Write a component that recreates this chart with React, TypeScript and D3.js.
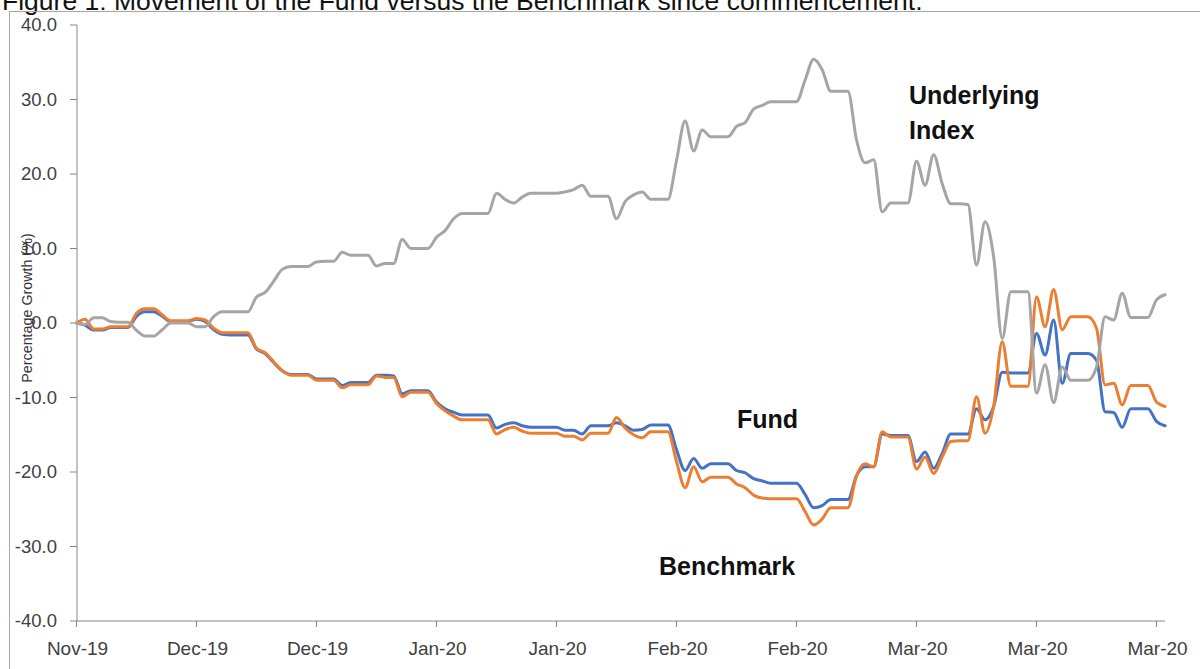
import React from "react";
import * as d3 from "d3";

const startDate = new Date(2019, 10, 25);
const tickLabels = ["Nov-19", "Dec-19", "Dec-19", "Jan-20", "Jan-20", "Feb-20", "Feb-20", "Mar-20", "Mar-20", "Mar-20"];
const yTicks = [40, 30, 20, 10, 0, -10, -20, -30, -40];

const fund = [
  0, -0.3, -0.95, -0.95, -0.6, -0.6, -0.6, 0.9, 1.5, 1.5,
  0.9, 0.2, 0.2, 0.2, 0.5, 0.2, -0.9, -1.5, -1.6, -1.6,
  -1.6, -3.5, -4.1, -5.3, -6.4, -6.9, -6.9, -6.9, -7.5, -7.5,
  -7.5, -8.4, -8.0, -8.0, -8.0, -7.0, -7.0, -7.1, -9.5, -9.1,
  -9.1, -9.1, -10.6, -11.5, -12.0, -12.35, -12.35, -12.35, -12.35, -14.1,
  -13.6, -13.4, -13.8, -14.0, -14.0, -14.0, -14.0, -14.4, -14.4, -14.9,
  -13.8, -13.8, -13.8, -13.4, -13.8, -14.4, -14.3, -13.7, -13.7, -13.7,
  -17.0, -19.8, -18.2, -19.5, -18.9, -18.9, -18.9, -19.8, -20.1, -20.9,
  -21.2, -21.5, -21.5, -21.5, -21.5, -23.0, -24.8, -24.5, -23.7, -23.7,
  -23.7, -20.5, -19.3, -19.3, -14.9, -15.1, -15.1, -15.1, -18.6, -17.3,
  -19.5, -17.5, -14.9, -14.9, -14.9, -11.5, -13.0, -11.2, -6.6, -6.7,
  -6.7, -6.7, -1.4, -4.3, 0.4, -8.1, -4.1, -4.1, -4.1, -5.0,
  -11.9, -12.0, -14.0, -11.5, -11.5, -11.5, -13.2, -13.8,
];

const benchmark = [
  0, 0.5, -0.8, -0.8, -0.5, -0.5, -0.5, 1.3, 1.9, 1.9,
  1.1, 0.3, 0.3, 0.3, 0.6, 0.4, -0.7, -1.3, -1.3, -1.3,
  -1.3, -3.4, -4.0, -5.2, -6.4, -7.0, -7.0, -7.0, -7.7, -7.7,
  -7.7, -8.7, -8.3, -8.3, -8.3, -7.1, -7.3, -7.3, -9.9, -9.3,
  -9.3, -9.3, -10.8, -11.8, -12.5, -13.0, -13.0, -13.0, -13.0, -14.9,
  -14.3, -14.0, -14.5, -14.8, -14.8, -14.8, -14.8, -15.2, -15.2, -15.7,
  -14.8, -14.8, -14.8, -12.7, -14.1, -15.0, -15.4, -14.6, -14.6, -14.6,
  -18.6, -22.1, -19.3, -21.3, -20.7, -20.7, -20.7, -21.6, -22.1, -23.1,
  -23.5, -23.6, -23.6, -23.6, -23.6, -25.3, -27.1, -26.3, -24.8, -24.8,
  -24.8, -20.5, -18.9, -19.3, -14.6, -15.3, -15.3, -15.3, -19.6, -18.0,
  -20.2, -18.0, -15.9, -15.8, -15.8, -9.9, -14.8, -11.2, -2.5, -8.5,
  -8.5, -8.5, 3.5, -0.5, 4.5, -0.9, 0.85, 0.85, 0.85, -0.7,
  -8.3, -8.1, -11.0, -8.4, -8.4, -8.4, -10.6, -11.2,
];

const underlying = [
  0, -0.2, 0.7, 0.7, 0.2, 0.1, 0.1, -1.0, -1.75, -1.75,
  -0.9, 0, 0, 0, -0.5, -0.5, 0.85, 1.5, 1.5, 1.5,
  1.5, 3.5, 4.1, 5.6, 7.2, 7.6, 7.6, 7.6, 8.2, 8.3,
  8.3, 9.5, 9.1, 9.1, 9.1, 7.65, 8.0, 8.0, 11.2, 10.0,
  10.0, 10.0, 11.5, 12.4, 14.0, 14.7, 14.7, 14.7, 14.7, 17.4,
  16.6, 16.1, 16.9, 17.4, 17.4, 17.4, 17.4, 17.6, 17.9, 18.5,
  17.0, 17.0, 17.0, 14.0, 16.3, 17.2, 17.6, 16.6, 16.6, 16.6,
  21.8, 27.1, 23.1, 25.9, 25.0, 25.0, 25.0, 26.4, 26.9, 28.7,
  29.2, 29.7, 29.7, 29.7, 29.7, 32.6, 35.4, 34.0, 31.1, 31.1,
  31.1, 24.6, 21.5, 21.9, 14.9, 16.1, 16.1, 16.1, 21.7, 18.5,
  22.6, 18.7, 16.0, 16.0, 15.9, 7.8, 13.6, 8.9, -2.1, 4.2,
  4.2, 4.2, -9.4, -5.6, -10.7, -5.9, -7.7, -7.7, -7.7, -5.9,
  0.85, 0.4, 4.0, 0.75, 0.75, 0.75, 3.1, 3.8,
];

const seriesNames = ["Fund", "Benchmark", "Underlying Index"];
const seriesColors = ["#4472C4", "#ED7D31", "#A5A5A5"];

export default function App() {
  const W = 1200;
  const H = 669;
  const dates = fund.map((_, i) => d3.timeDay.offset(startDate, i));
  const x = d3
    .scaleTime()
    .domain([dates[0], dates[dates.length - 1]])
    .range([76.5, 76.5 + (dates.length - 1) * (120 / 14)]);
  const y = d3.scaleLinear().domain([-40, 40]).range([621, 25]);
  const tickDates = tickLabels.map((_, i) => d3.timeDay.offset(startDate, i * 14));

  const line = d3
    .line<number>()
    .x((_, i) => x(dates[i]))
    .y((d) => y(d))
    .curve(d3.curveMonotoneX);

  const allSeries = [fund, benchmark, underlying];
  const axisColor = "#868686";
  const font = "'Liberation Sans', Arial, sans-serif";

  return (
    <svg
      width={W}
      height={H}
      style={{ position: "fixed", left: 0, top: 0, background: "#fff" }}
    >
      <rect x={0} y={0} width={W} height={H} fill="#fff" />
      <text x={2} y={9.5} fontFamily={font} fontSize={26.5} fill="#111">
        Figure 1: Movement of the Fund versus the Benchmark since commencement.
      </text>
      <rect x={9.5} y={11.5} width={W + 20} height={H + 20} fill="none" stroke="#a6a6a6" strokeWidth={1} />

      {/* y axis */}
      <line x1={77} x2={77} y1={y(40)} y2={y(-40)} stroke={axisColor} strokeWidth={1} />
      {yTicks.map((t) => (
        <g key={t}>
          <line x1={70} x2={77} y1={y(t)} y2={y(t)} stroke={axisColor} strokeWidth={1} />
          <text
            x={57}
            y={y(t)}
            dy="0.35em"
            textAnchor="end"
            fontFamily={font}
            fontSize={18.5}
            fill="#404040"
          >
            {t.toFixed(1)}
          </text>
        </g>
      ))}

      {/* x axis */}
      <line x1={77} x2={1165} y1={y(-40)} y2={y(-40)} stroke={axisColor} strokeWidth={1} />
      {tickDates.map((d, i) => (
        <g key={i}>
          <line x1={x(d)} x2={x(d)} y1={y(-40)} y2={y(-40) + 6} stroke={axisColor} strokeWidth={1} />
          <text
            x={x(d) + 1}
            y={655}
            textAnchor="middle"
            fontFamily={font}
            fontSize={19}
            fill="#404040"
          >
            {tickLabels[i]}
          </text>
        </g>
      ))}

      <text
        transform={`translate(32, 308) rotate(-90)`}
        textAnchor="middle"
        fontFamily={font}
        fontSize={14.3}
        fill="#333"
      >
        Percentage Growth (%)
      </text>

      {allSeries.map((s, k) => (
        <path
          key={seriesNames[k]}
          d={line(s) || ""}
          fill="none"
          stroke={seriesColors[k]}
          strokeWidth={3}
          strokeLinejoin="round"
          strokeLinecap="round"
        />
      ))}

      <g fontFamily={font} fontWeight="bold" fontSize={25} fill="#111">
        <text x={909} y={104}>Underlying</text>
        <text x={909} y={139}>Index</text>
        <text x={737} y={428}>Fund</text>
        <text x={659} y={575}>Benchmark</text>
      </g>
    </svg>
  );
}
